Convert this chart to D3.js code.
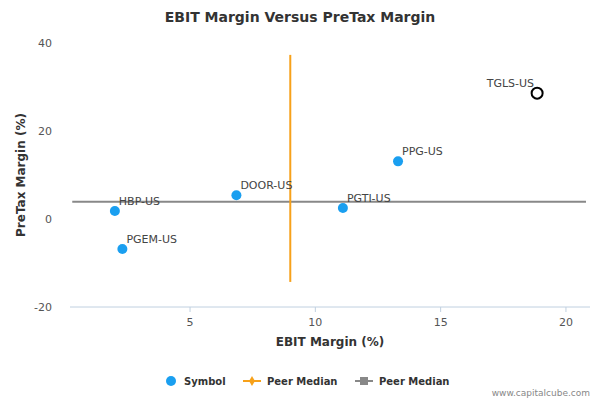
<!DOCTYPE html>
<html><head><meta charset="utf-8">
<script src="https://cdn.jsdelivr.net/npm/d3@7"></script>
<style>body{margin:0;font-family:"DejaVu Sans",sans-serif;background:#fff}</style>
</head><body><svg id="c" width="600" height="400"></svg>
<script>
const symbols = ["HBP-US", "PGEM-US", "DOOR-US", "PGTI-US", "PPG-US", "TGLS-US"];
const ebit = [2.0, 2.3, 6.85, 11.1, 13.3, 18.85];
const pretax = [1.8, -6.8, 5.4, 2.5, 13.1, 28.6];
const highlight = "TGLS-US";
const medianX = 9.0, medianXRange = [-14.3, 37.3];
const medianY = 3.9, medianYRange = [0.3, 20.8];
const xTicks = [5, 10, 15, 20];
const yTicks = [-20, 0, 20, 40];

const svg = d3.select("#c");
const x = d3.scaleLinear().domain([0.21, 20.96]).range([70, 590]);
const y = d3.scaleLinear().domain([-20, 40]).range([307, 43]);

svg.append("text").attr("x", 300).attr("y", 22).attr("text-anchor", "middle")
    .style("font-size", "14px").style("font-weight", "bold").attr("fill", "#333")
    .text("EBIT Margin Versus PreTax Margin");

svg.append("line").attr("x1", 70).attr("x2", 590).attr("y1", y(-20)).attr("y2", y(-20))
    .attr("stroke", "#c0d0e0");
xTicks.forEach(t => {
    svg.append("line").attr("x1", x(t)).attr("x2", x(t)).attr("y1", 307).attr("y2", 312).attr("stroke", "#c0d0e0");
    svg.append("text").attr("x", x(t)).attr("y", 326).attr("text-anchor", "middle")
        .style("font-size", "11px").attr("fill", "#555").text(t);
});
yTicks.forEach(t => {
    svg.append("text").attr("x", 52).attr("y", y(t) + 4).attr("text-anchor", "end")
        .style("font-size", "11px").attr("fill", "#555").text(t);
});
svg.append("text").attr("x", 330).attr("y", 346).attr("text-anchor", "middle")
    .style("font-size", "12px").style("font-weight", "bold").attr("fill", "#333").text("EBIT Margin (%)");
svg.append("text").attr("transform", "translate(25,175) rotate(-90)").attr("text-anchor", "middle")
    .style("font-size", "12px").style("font-weight", "bold").attr("fill", "#333").text("PreTax Margin (%)");

svg.append("line").attr("x1", x(medianYRange[0])).attr("x2", x(medianYRange[1]))
    .attr("y1", y(medianY)).attr("y2", y(medianY)).attr("stroke", "#888").attr("stroke-width", 2);
svg.append("line").attr("x1", x(medianX)).attr("x2", x(medianX))
    .attr("y1", y(medianXRange[0])).attr("y2", y(medianXRange[1])).attr("stroke", "#f7a11a").attr("stroke-width", 2);

symbols.forEach((s, i) => {
    const hl = s === highlight;
    svg.append("circle").attr("cx", x(ebit[i])).attr("cy", y(pretax[i])).attr("r", hl ? 5.5 : 5)
        .attr("fill", hl ? "#fff" : "#1a9ff0").attr("stroke", hl ? "#000" : "none").attr("stroke-width", 2);
    svg.append("text").attr("x", x(ebit[i]) + (hl ? -3 : 4)).attr("y", y(pretax[i]) - 6)
        .attr("text-anchor", hl ? "end" : "start")
        .style("font-size", "11px").attr("fill", "#444").text(s);
});

const lg = svg.append("g").style("font-size", "10px").style("font-weight", "bold").attr("fill", "#333");
lg.append("circle").attr("cx", 171).attr("cy", 381).attr("r", 5).attr("fill", "#1a9ff0");
lg.append("text").attr("x", 184).attr("y", 385).text("Symbol");
lg.append("line").attr("x1", 243).attr("x2", 261).attr("y1", 381).attr("y2", 381).attr("stroke", "#f7a11a").attr("stroke-width", 2);
lg.append("path").attr("d", d3.symbol(d3.symbolDiamond, 30)()).attr("transform", "translate(252,381)").attr("fill", "#f7a11a");
lg.append("text").attr("x", 267).attr("y", 385).text("Peer Median");
lg.append("line").attr("x1", 355).attr("x2", 373).attr("y1", 381).attr("y2", 381).attr("stroke", "#888").attr("stroke-width", 2);
lg.append("rect").attr("x", 360).attr("y", 377).attr("width", 8).attr("height", 8).attr("fill", "#888");
lg.append("text").attr("x", 379).attr("y", 385).text("Peer Median");

svg.append("text").attr("x", 590).attr("y", 396).attr("text-anchor", "end")
    .style("font-size", "9px").attr("fill", "#888").text("www.capitalcube.com");
</script></body></html>
